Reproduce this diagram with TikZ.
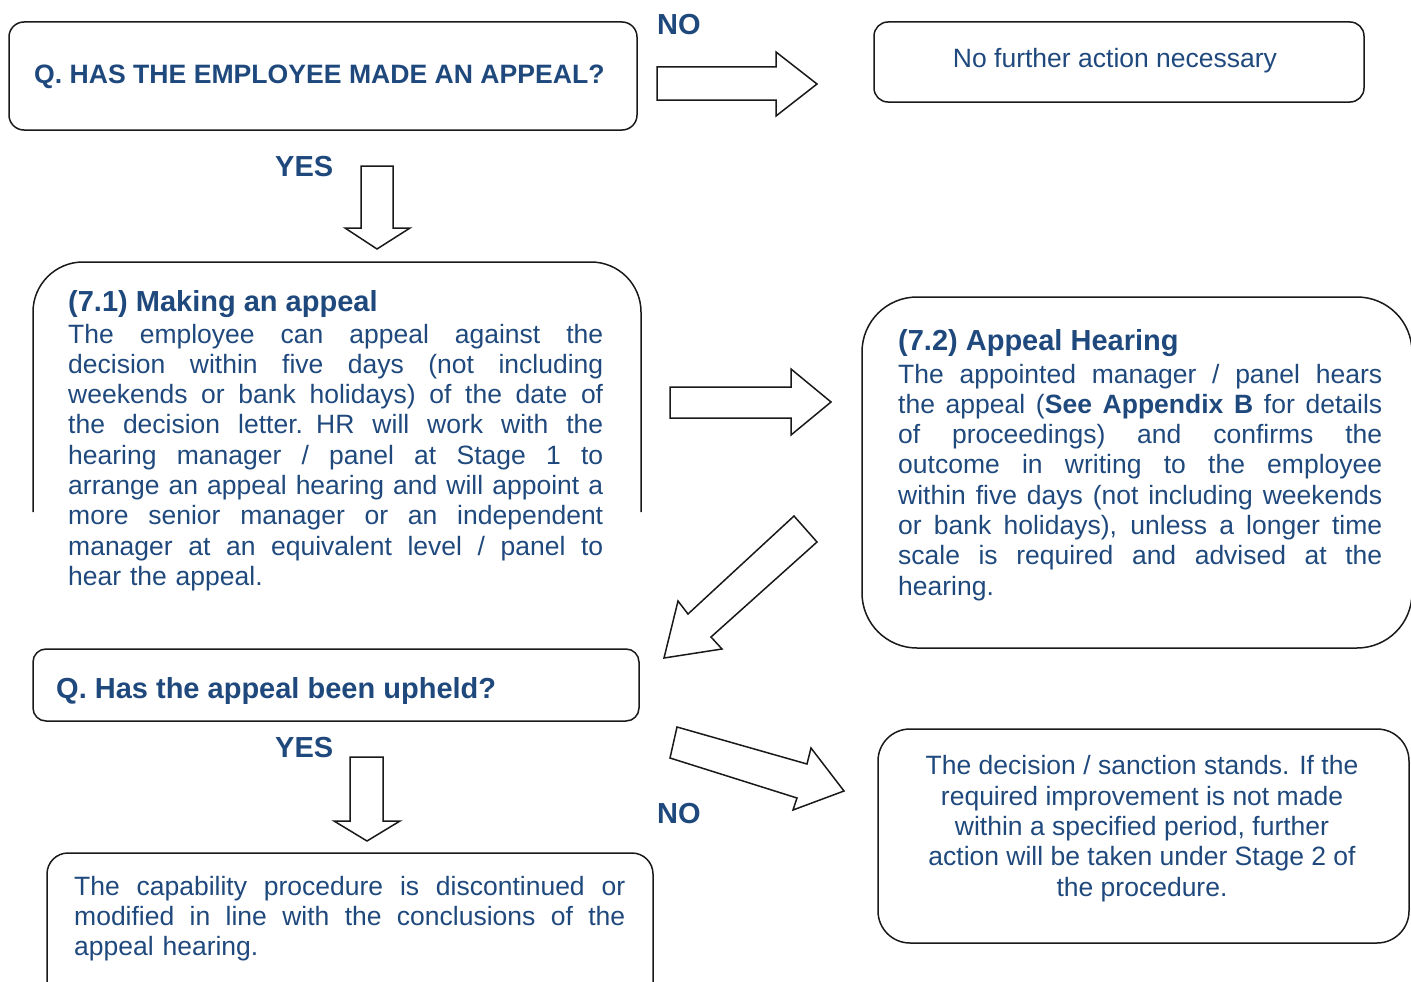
\documentclass[tikz,border=0pt]{standalone}
\usepackage{fontspec}
\setmainfont{Liberation Sans}
\definecolor{tblue}{RGB}{31,73,125}
\definecolor{lineclr}{RGB}{25,25,25}
\newcommand\jl[1]{\hbox to \linewidth{\spaceskip=\fontdimen2\font plus 1fil\relax #1}}
\begin{document}
\begin{tikzpicture}[x=1pt,y=-1pt,
  box/.style={draw=lineclr, line width=1.5pt},
  barrow/.style={draw=lineclr, line width=1.5pt, fill=white, line join=miter},
  body/.style={text=tblue, inner sep=0pt, font=\fontsize{26.5}{30.3}\selectfont},
  head/.style={text=tblue, inner sep=0pt, font=\bfseries\fontsize{29}{30.3}\selectfont},
  lbl/.style={text=tblue, inner sep=0pt, font=\bfseries\fontsize{29}{30}\selectfont}]
\useasboundingbox (0,0) rectangle (1411,982);
\clip (0,0) rectangle (1411,982);

% ---- boxes ----
\draw[box, rounded corners=15pt] (9,22) rectangle (637,130);
\draw[box, rounded corners=14pt] (874,22) rectangle (1364,102);
\draw[box, rounded corners=50pt] (33,512) -- (33,262) -- (641,262) -- (641,512);
\draw[box, rounded corners=55pt] (862,297) rectangle (1412,648);
\draw[box, rounded corners=13pt] (33,649) rectangle (639,721);
\draw[box, rounded corners=21pt] (47,853) rectangle (653,1010);
\draw[box, rounded corners=32pt] (878,729) rectangle (1409,943);

% ---- block arrows ----
\draw[barrow] (657,67) -- (776,67) -- (776,52) -- (817,84) -- (776,116) -- (776,100) -- (657,100) -- cycle;
\draw[barrow] (361,166) -- (393,166) -- (393,228) -- (410,228) -- (377,249) -- (345,228) -- (361,228) -- cycle;
\draw[barrow] (670,387) -- (791,387) -- (791,369) -- (831,402) -- (791,435) -- (791,418) -- (670,418) -- cycle;
\draw[barrow] (794,516) -- (817,542) -- (711,637) -- (722,649) -- (664,658) -- (678,601) -- (688,614) -- cycle;
\draw[barrow] (677,727) -- (807,764) -- (811,748) -- (844,791) -- (793,810) -- (797,798) -- (670,758) -- cycle;
\draw[barrow] (350,757) -- (383,757) -- (383,821) -- (400,821) -- (367,841) -- (334,821) -- (350,821) -- cycle;

% ---- labels ----
\node[lbl, anchor=base west] (no1) at (657,35) {NO};
\node[lbl, anchor=base west] (yes1) at (275,176) {YES};
\node[lbl, anchor=base west] (yes2) at (275,757) {YES};
\node[lbl, anchor=base west] (no2) at (657,823) {NO};

% ---- texts ----
\node[text=tblue, inner sep=0pt, font=\bfseries\fontsize{26.6}{30}\selectfont, anchor=base west] (t1) at (34,83) {Q. HAS THE EMPLOYEE MADE AN APPEAL?};
\node[body, anchor=base] (t2) at (1115,68) {No further action necessary};

\node[head, anchor=base west] (h71) at (68,311) {(7.1) Making an appeal};
\node[body, anchor=base west, text width=535pt] (b71) at (68,343) {%
\jl{The employee can appeal against the}
\jl{decision within five days (not including}
\jl{weekends or bank holidays) of the date of}
\jl{the decision letter. HR will work with the}
\jl{hearing manager / panel at Stage 1 to}
\jl{arrange an appeal hearing and will appoint a}
\jl{more senior manager or an independent}
\jl{manager at an equivalent level / panel to}
\hbox{hear the appeal.}};

\node[head, anchor=base west] (h72) at (898,350) {(7.2) Appeal Hearing};
\node[body, anchor=base west, text width=484pt] (b72) at (898,383) {%
\jl{The appointed manager / panel hears}
\jl{the appeal (\textbf{See Appendix B} for details}
\jl{of proceedings) and confirms the}
\jl{outcome in writing to the employee}
\jl{within five days (not including weekends}
\jl{or bank holidays), unless a longer time}
\jl{scale is required and advised at the}
\hbox{hearing.}};

\node[head, anchor=base west] (q2) at (56,698) {Q. Has the appeal been upheld?};

\node[body, anchor=base west, text width=551pt] (b6) at (74,895) {%
\jl{The capability procedure is discontinued or}
\jl{modified in line with the conclusions of the}
\hbox{appeal hearing.}};

\node[body, anchor=base, align=center] (b7) at (1142,896) {%
The decision / sanction stands. If the\\
required improvement is not made\\
within a specified period, further\\
action will be taken under Stage 2 of\\
the procedure.};
\end{tikzpicture}
\end{document}
